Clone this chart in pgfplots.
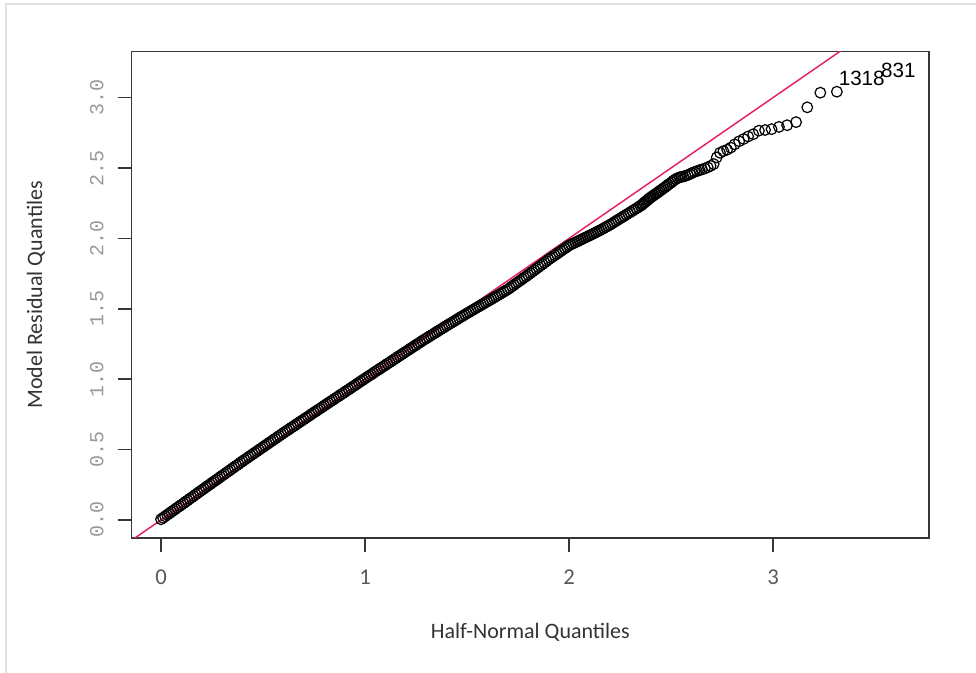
\documentclass[border=0pt]{standalone}
\usepackage{fontspec}
\usepackage{pgfplots}
\pgfplotsset{compat=1.18}
\setmainfont{Carlito}
\newfontfamily\monofont{Liberation Mono}
\newfontfamily\arialfont{Liberation Sans}
\definecolor{refline}{RGB}{232,32,92}
\definecolor{axisgray}{RGB}{55,55,55}

\begin{document}
\begin{tikzpicture}
\path[use as bounding box] (-98.8pt,-101.25pt) rectangle (633.2pt,403.5pt);
\draw[black!12, line width=1.5pt] (-94.3pt,-101.25pt) -- (-94.3pt,400.5pt) -- (633.2pt,400.5pt);
\begin{axis}[
  scale only axis, width=598pt, height=364.7pt,
  xmin=-0.1436, xmax=3.765, ymin=-0.128, ymax=3.326,
  axis line style={axisgray, line width=1.1pt},
  xtick={0,1,2,3}, xticklabels={0,1,2,3},
  ytick={0,0.5,1,1.5,2,2.5,3},
  yticklabels={0.0,0.5,1.0,1.5,2.0,2.5,3.0},
  tick align=outside, xtick pos=bottom, ytick pos=left,
  major tick length=10.5pt,
  tick style={axisgray, line width=1.1pt},
  xticklabel shift=10pt, yticklabel shift=7pt,
  xticklabel style={font=\fontsize{17}{19}\selectfont, text=black!65},
  yticklabel style={font=\monofont\fontsize{15}{17}\selectfont, text=black!40, rotate=90, anchor=south},
  xlabel={Half-Normal Quantiles}, ylabel={Model Residual Quantiles},
  label style={font=\fontsize{16.5}{18}\selectfont, text=black!80},
  xlabel style={at={(axis description cs:0.5,-0.1933)}, anchor=center},
  ylabel style={at={(axis description cs:-0.12,0.5)}, anchor=center},
]
% sorted absolute residuals against half-normal quantiles
\addplot[only marks, mark=o, mark size=4.0pt, mark options={draw=black, line width=0.9pt}] coordinates {
(0.00,0.005) (0.01,0.015) (0.02,0.026) (0.03,0.036) (0.04,0.046) (0.05,0.057) (0.06,0.067) (0.07,0.077) (0.08,0.088) (0.09,0.098)
(0.10,0.108) (0.11,0.118) (0.12,0.129) (0.13,0.139) (0.14,0.150) (0.15,0.160) (0.16,0.170) (0.17,0.181) (0.18,0.191) (0.19,0.202)
(0.20,0.212) (0.21,0.222) (0.22,0.233) (0.23,0.243) (0.24,0.253) (0.25,0.264) (0.26,0.274) (0.27,0.284) (0.28,0.294) (0.29,0.305)
(0.30,0.315) (0.31,0.325) (0.32,0.336) (0.33,0.346) (0.34,0.356) (0.35,0.367) (0.36,0.377) (0.37,0.387) (0.38,0.397) (0.39,0.408)
(0.40,0.418) (0.41,0.428) (0.42,0.438) (0.43,0.448) (0.44,0.458) (0.45,0.468) (0.46,0.478) (0.47,0.488) (0.48,0.498) (0.49,0.508)
(0.50,0.518) (0.51,0.528) (0.52,0.538) (0.53,0.548) (0.54,0.558) (0.55,0.568) (0.56,0.578) (0.57,0.588) (0.58,0.598) (0.59,0.608)
(0.60,0.618) (0.61,0.628) (0.62,0.637) (0.63,0.647) (0.64,0.657) (0.65,0.666) (0.66,0.676) (0.67,0.686) (0.68,0.696) (0.69,0.705)
(0.70,0.715) (0.71,0.725) (0.72,0.734) (0.73,0.744) (0.74,0.754) (0.75,0.764) (0.76,0.773) (0.77,0.783) (0.78,0.792) (0.79,0.802)
(0.80,0.812) (0.81,0.822) (0.82,0.831) (0.83,0.841) (0.84,0.850) (0.85,0.860) (0.86,0.870) (0.87,0.879) (0.88,0.889) (0.89,0.898)
(0.90,0.908) (0.91,0.918) (0.92,0.927) (0.93,0.937) (0.94,0.947) (0.95,0.956) (0.96,0.966) (0.97,0.976) (0.98,0.986) (0.99,0.995)
(1.00,1.005) (1.01,1.015) (1.02,1.024) (1.03,1.033) (1.04,1.043) (1.05,1.053) (1.06,1.062) (1.07,1.072) (1.08,1.081) (1.09,1.091)
(1.10,1.100) (1.11,1.110) (1.12,1.119) (1.13,1.129) (1.14,1.138) (1.15,1.148) (1.16,1.158) (1.17,1.167) (1.18,1.177) (1.19,1.186)
(1.20,1.196) (1.21,1.205) (1.22,1.215) (1.23,1.224) (1.24,1.234) (1.25,1.243) (1.26,1.253) (1.27,1.262) (1.28,1.272) (1.29,1.281)
(1.30,1.290) (1.31,1.299) (1.32,1.308) (1.33,1.317) (1.34,1.326) (1.35,1.335) (1.36,1.344) (1.37,1.353) (1.38,1.362) (1.39,1.371)
(1.40,1.380) (1.41,1.389) (1.42,1.398) (1.43,1.406) (1.44,1.415) (1.45,1.424) (1.46,1.433) (1.47,1.442) (1.48,1.450) (1.49,1.459)
(1.50,1.468) (1.51,1.476) (1.52,1.485) (1.53,1.493) (1.54,1.502) (1.55,1.510) (1.56,1.518) (1.57,1.527) (1.58,1.535) (1.59,1.544)
(1.60,1.552) (1.61,1.561) (1.62,1.569) (1.63,1.578) (1.64,1.586) (1.65,1.595) (1.66,1.604) (1.67,1.612) (1.68,1.621) (1.69,1.629)
(1.70,1.638) (1.71,1.648) (1.72,1.659) (1.73,1.669) (1.74,1.680) (1.75,1.690) (1.76,1.700) (1.77,1.711) (1.78,1.721) (1.79,1.731)
(1.80,1.742) (1.81,1.753) (1.82,1.763) (1.83,1.774) (1.84,1.785) (1.85,1.796) (1.86,1.807) (1.87,1.817) (1.88,1.828) (1.89,1.839)
(1.90,1.850) (1.91,1.860) (1.92,1.870) (1.93,1.880) (1.94,1.890) (1.95,1.900) (1.96,1.910) (1.97,1.920) (1.98,1.930) (1.99,1.940)
(2.00,1.950) (2.01,1.957) (2.02,1.964) (2.03,1.971) (2.04,1.978) (2.05,1.985) (2.06,1.992) (2.07,1.999) (2.08,2.006) (2.09,2.013)
(2.10,2.020) (2.11,2.027) (2.12,2.034) (2.13,2.042) (2.14,2.049) (2.15,2.056) (2.16,2.064) (2.17,2.072) (2.18,2.080) (2.19,2.088)
(2.20,2.096) (2.21,2.105) (2.22,2.114) (2.23,2.123) (2.24,2.132) (2.25,2.141) (2.26,2.150) (2.27,2.159) (2.28,2.168) (2.29,2.177)
(2.30,2.186) (2.31,2.195) (2.32,2.204) (2.33,2.213) (2.34,2.222) (2.35,2.231)
(2.357,2.238) (2.363,2.246) (2.369,2.254) (2.376,2.262) (2.383,2.270) (2.389,2.278) (2.396,2.286) (2.402,2.293) (2.409,2.300) (2.416,2.307)
(2.424,2.315) (2.431,2.322) (2.438,2.329) (2.445,2.337) (2.453,2.345) (2.461,2.354) (2.470,2.363) (2.478,2.372) (2.486,2.381) (2.495,2.390)
(2.504,2.400) (2.512,2.410) (2.522,2.420) (2.532,2.428) (2.542,2.434) (2.551,2.437) (2.561,2.440) (2.571,2.444) (2.582,2.450) (2.593,2.457)
(2.603,2.465) (2.615,2.472) (2.627,2.478) (2.640,2.485) (2.652,2.490) (2.666,2.497) (2.680,2.505) (2.694,2.515) (2.709,2.528) (2.724,2.575)
(2.740,2.608) (2.757,2.620) (2.775,2.630) (2.793,2.645) (2.812,2.668) (2.834,2.690) (2.856,2.706) (2.878,2.724) (2.903,2.740) (2.931,2.765)
(2.961,2.770) (2.993,2.776) (3.029,2.792) (3.069,2.804) (3.113,2.826) (3.168,2.931) (3.232,3.035) (3.313,3.042)
};
% reference line y = x
\addplot[refline, line width=1.1pt] coordinates {(-0.3,-0.3) (3.9,3.9)};
% the two largest residuals are shown by their case numbers
\addplot[draw=none, mark=none, nodes near coords, point meta=explicit symbolic,
  nodes near coords style={anchor=center, inner sep=0pt, font=\arialfont\fontsize{15.5}{17}\selectfont, text=black}]
  coordinates {(3.435,3.137) [1318] (3.614,3.19) [831]};
\end{axis}
\end{tikzpicture}
\end{document}
